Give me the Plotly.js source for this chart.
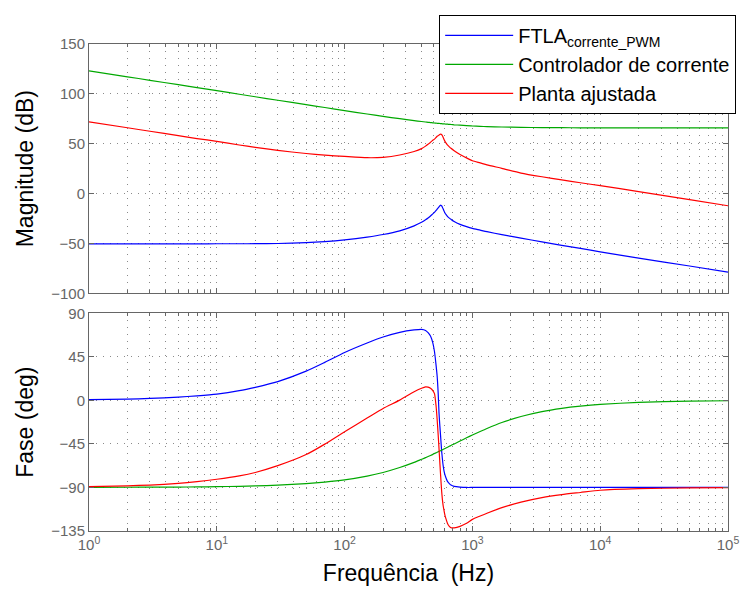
<!DOCTYPE html>
<html>
<head>
<meta charset="utf-8">
<script src="https://cdn.plot.ly/plotly-3.0.1.min.js"></script>
<style>html,body{margin:0;padding:0;background:#fff;}#chart{width:741px;height:594px;}</style>
</head>
<body>
<div id="chart"></div>
<script>
// Frequencies (Hz)
var freq = [1, 2, 3, 5, 7, 10, 15, 20, 30, 50, 70, 100, 150, 200, 270, 350, 400, 430, 450, 470, 490, 505, 520, 530, 540, 548, 555, 560, 565, 570, 575, 582, 590, 600, 610, 625, 640, 660, 680, 720, 800, 900, 1000, 1150, 1300, 1700, 2400, 3500, 5000, 7000, 10000, 20000, 50000, 100000];

// Magnitudes (dB)
var magFTLA = [-50.5, -50.5, -50.5, -50.4, -50.4, -50.3, -50.3, -50.2, -50.0, -49.1, -48.1, -46.4, -43.6, -41.0, -37.3, -32.3, -28.8, -26.3, -24.5, -22.5, -20.3, -18.8, -16.9, -15.6, -14.3, -13.3, -12.4, -11.9, -11.6, -11.9, -12.3, -13.6, -15.2, -17.4, -19.5, -21.4, -23.0, -24.6, -25.8, -28.0, -30.8, -33.1, -34.8, -36.6, -38.2, -41.2, -44.6, -48.4, -51.9, -55.0, -58.4, -64.6, -72.6, -78.7];
var magCtrl = [123.1, 117.1, 113.6, 109.2, 106.3, 103.2, 99.6, 97.1, 93.6, 89.2, 86.3, 83.2, 79.8, 77.4, 75.1, 73.2, 72.3, 71.8, 71.5, 71.25, 71.0, 70.8, 70.6, 70.5, 70.4, 70.35, 70.3, 70.25, 70.2, 70.15, 70.1, 70.0, 70.0, 69.9, 69.8, 69.7, 69.6, 69.4, 69.3, 69.0, 68.6, 68.1, 67.8, 67.4, 67.2, 66.8, 66.4, 66.2, 66.1, 66.0, 66.0, 66.0, 66.0, 66.0];
var magPlanta = [72.0, 66.0, 62.5, 58.1, 55.2, 52.4, 48.7, 46.4, 43.3, 40.2, 38.6, 37.3, 36.0, 36.4, 38.7, 42.2, 45.1, 47.6, 49.5, 51.4, 53.5, 54.6, 56.3, 57.5, 58.2, 58.7, 59.2, 59.5, 59.6, 59.4, 59.1, 58.0, 56.6, 54.3, 52.4, 50.4, 48.6, 46.9, 45.4, 43.0, 39.2, 35.8, 33.0, 30.8, 28.8, 25.3, 20.6, 16.9, 13.8, 10.9, 8.0, 2.0, -6.0, -12.2];

// Phases (deg)
var phFTLA = [0.7, 1.3, 2.0, 3.4, 4.7, 6.5, 10.0, 13.5, 19.4, 30.2, 39.3, 49.5, 59.3, 65.5, 70.3, 72.8, 73.4, 72.3, 70.0, 66.5, 59.5, 50.5, 36.0, 25.0, 7.0, -13.0, -24.5, -31.5, -38.5, -45.8, -53.0, -60.0, -67.0, -73.0, -77.0, -81.0, -84.0, -86.0, -87.5, -88.8, -89.6, -90.0, -90.0, -90.0, -90.0, -90.0, -90.0, -90.0, -90.0, -90.0, -90.0, -90.0, -90.0, -90.0];
var phCtrl = [-89.9, -89.8, -89.7, -89.6, -89.4, -89.2, -88.8, -88.4, -87.6, -86.0, -84.4, -82.1, -78.2, -74.5, -69.4, -64.1, -60.9, -59.2, -58.0, -56.9, -55.8, -54.9, -54.2, -53.6, -53.1, -52.7, -52.4, -52.1, -51.9, -51.6, -51.4, -51.0, -50.7, -50.2, -49.7, -49.0, -48.4, -47.5, -46.6, -45.0, -42.0, -38.7, -35.8, -32.1, -29.0, -22.9, -16.7, -11.6, -8.2, -5.9, -4.1, -2.1, -0.8, -0.4];
var phPlanta = [-89.2, -88.3, -87.5, -85.8, -84.0, -81.5, -78.0, -74.5, -67.5, -56.0, -45.2, -32.3, -18.3, -8.3, 0.3, 9.0, 12.6, 14.0, 13.7, 12.6, 10.2, 7.0, -6.0, -20.0, -36.0, -50.0, -62.0, -71.0, -79.0, -87.0, -94.5, -102.0, -108.5, -114.0, -118.8, -123.5, -127.5, -130.3, -131.6, -131.7, -130.2, -127.0, -123.0, -119.5, -116.6, -110.9, -105.2, -100.5, -97.4, -95.2, -92.9, -91.3, -90.4, -90.2];

var names = ['FTLA<sub>corrente_PWM</sub>', 'Controlador de corrente', 'Planta ajustada'];
var colors = ['#0000ff', '#00a800', '#ff0000'];

var xTickVals = [1, 10, 100, 1000, 10000, 100000];
var xTickText = ['10<sup>0</sup>', '10<sup>1</sup>', '10<sup>2</sup>', '10<sup>3</sup>', '10<sup>4</sup>', '10<sup>5</sup>'];
var magTicks = [-100, -50, 0, 50, 100, 150];
var phTicks = [-135, -90, -45, 0, 45, 90];

var mags = [magFTLA, magCtrl, magPlanta];
var phs = [phFTLA, phCtrl, phPlanta];
var data = [];
for (var i = 0; i < 3; i++) {
  data.push({x: freq, y: mags[i], type: 'scatter', mode: 'lines', name: names[i],
    line: {color: colors[i], width: 1.2, shape: 'spline', smoothing: 0.6}, xaxis: 'x2', yaxis: 'y2', legendrank: i + 1});
}
for (var j = 0; j < 3; j++) {
  data.push({x: freq, y: phs[j], type: 'scatter', mode: 'lines', name: names[j], showlegend: false,
    line: {color: colors[j], width: 1.2, shape: 'spline', smoothing: 0.6}, xaxis: 'x', yaxis: 'y'});
}

var gridStyle = {gridcolor: '#8a8a8a', griddash: '1px,6px', gridwidth: 1};
var frame = {showline: true, linecolor: '#666', linewidth: 1, mirror: 'ticks', ticks: 'inside',
  ticklen: 5, tickcolor: '#666', zeroline: false};
var tickFont = {family: 'Liberation Sans, Arial, sans-serif', size: 15, color: '#666'};
var titleFont = {family: 'Liberation Sans, Arial, sans-serif', size: 23, color: '#000'};
var minorX = {dtick: 'D1', ticks: 'inside', ticklen: 3, tickcolor: '#666', showgrid: true,
  gridcolor: '#8a8a8a', griddash: '1px,6px', gridwidth: 1};

var layout = {
  width: 741, height: 594,
  margin: {l: 89, r: 13, t: 44, b: 63, autoexpand: false},
  paper_bgcolor: '#fff', plot_bgcolor: '#fff',
  font: {family: 'Liberation Sans, Arial, sans-serif'},
  showlegend: true,
  legend: {x: 0.548, y: 1.06, xanchor: 'left', yanchor: 'top', bgcolor: '#fff',
    bordercolor: '#000', borderwidth: 1, font: {family: 'Liberation Sans, Arial, sans-serif', size: 20, color: '#000'},
    itemwidth: 68, tracegroupgap: 0},
  xaxis: Object.assign({}, frame, gridStyle, {type: 'log', range: [0, 5], anchor: 'y',
    tickmode: 'array', tickvals: xTickVals, ticktext: xTickText, tickfont: tickFont, showgrid: true,
    minor: minorX,
    title: {text: 'Frequência\u00a0 (Hz)', font: titleFont, standoff: 12}}),
  yaxis: Object.assign({}, frame, gridStyle, {domain: [0, 0.447], range: [-135, 90], anchor: 'x',
    tickmode: 'array', tickvals: phTicks, tickfont: tickFont, showgrid: true,
    title: {text: 'Fase (deg)', font: titleFont, standoff: 11}}),
  xaxis2: Object.assign({}, frame, gridStyle, {type: 'log', range: [0, 5], anchor: 'y2', matches: 'x',
    tickmode: 'array', tickvals: xTickVals, showticklabels: false, showgrid: true,
    minor: minorX}),
  yaxis2: Object.assign({}, frame, gridStyle, {domain: [0.488, 1], range: [-100, 150], anchor: 'x2',
    tickmode: 'array', tickvals: magTicks, tickfont: tickFont, showgrid: true,
    title: {text: 'Magnitude (dB)', font: titleFont, standoff: 11}})
};

Plotly.newPlot('chart', data, layout, {displayModeBar: false, staticPlot: true});
</script>
</body>
</html>
